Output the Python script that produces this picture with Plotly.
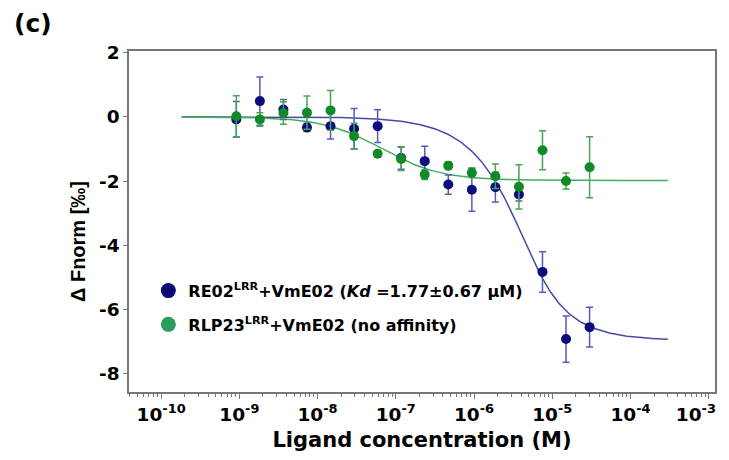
import numpy as np
import plotly.graph_objects as go

# ---- data ----
conc_M = [9.155e-10, 1.831e-9, 3.662e-9, 7.324e-9, 1.465e-8, 2.930e-8, 5.859e-8, 1.172e-7,
          2.344e-7, 4.688e-7, 9.375e-7, 1.875e-6, 3.750e-6, 7.500e-6, 1.500e-5, 3.000e-5]

re02_fnorm = [-0.08, 0.49, 0.23, -0.33, -0.29, -0.37, -0.29, -1.28,
              -1.38, -2.11, -2.27, -2.19, -2.42, -4.83, -6.92, -6.55]
re02_err = [0.56, 0.75, 0.31, 0.13, 0.40, 0.63, 0.51, 0.35,
            0.46, 0.30, 0.67, 0.46, 0.20, 0.63, 0.72, 0.62]

rlp23_fnorm = [0.02, -0.08, 0.12, 0.13, 0.20, -0.60, -1.15, -1.31,
               -1.80, -1.52, -1.74, -1.85, -2.18, -1.04, -2.00, -1.57]
rlp23_err = [0.64, 0.21, 0.35, 0.52, 0.62, 0.40, 0.10, 0.36,
             0.15, 0.12, 0.15, 0.38, 0.69, 0.61, 0.25, 0.95]

# fit parameters
re02_kd, re02_target, re02_bound = 1.77e-6, 4.0e-6, -6.97
rlp23_ec50, rlp23_hill, rlp23_bound = 6.6e-8, 1.15, -1.98

x_tickvals = [1e-10, 1e-9, 1e-8, 1e-7, 1e-6, 1e-5, 1e-4, 1e-3]
x_ticktext = ["10<sup>-10</sup>", "10<sup>-9</sup>", "10<sup>-8</sup>", "10<sup>-7</sup>",
              "10<sup>-6</sup>", "10<sup>-5</sup>", "10<sup>-4</sup>",
              "10<sup>-3</sup>\u00a0\u00a0\u00a0\u00a0"]
y_tickvals = [2, 0, -2, -4, -6, -8]

label_re02 = "<b>RE02<sup>LRR</sup>+VmE02 (<i>Kd</i> =1.77±0.67 µM)</b>"
label_rlp23 = "<b>RLP23<sup>LRR</sup>+VmE02 (no affinity)</b>"
x_title = "<b>Ligand concentration (M)</b>"
y_title = "<b>Δ Fnorm [‰]</b>"
panel_label = "<b>(c)</b>"

# ---- fit curves ----
c_fit = np.logspace(np.log10(min(conc_M) / 5), np.log10(max(conc_M) * 10), 300)
s = c_fit + re02_target + re02_kd
frac_re02 = (s - np.sqrt(s ** 2 - 4 * c_fit * re02_target)) / (2 * re02_target)
fit_re02 = re02_bound * frac_re02
fit_rlp23 = rlp23_bound / (1 + (rlp23_ec50 / c_fit) ** rlp23_hill)

BLUE_PT = "#0c0c7e"
BLUE_LN = "#4848a8"
GREEN_PT = "#0f8a26"
GREEN_LN = "#44ad5e"

WIDE = "'DejaVu Sans', Verdana, sans-serif"
ARIAL = "Arial, 'Liberation Sans', sans-serif"

fig = go.Figure()
fig.add_trace(go.Scatter(x=c_fit, y=fit_re02, mode="lines",
                         line=dict(color=BLUE_LN, width=1.5), showlegend=False, hoverinfo="skip"))
fig.add_trace(go.Scatter(x=c_fit, y=fit_rlp23, mode="lines",
                         line=dict(color=GREEN_LN, width=1.5), showlegend=False, hoverinfo="skip"))
fig.add_trace(go.Scatter(x=conc_M, y=re02_fnorm, mode="markers",
                         marker=dict(color=BLUE_PT, size=10),
                         error_y=dict(type="data", array=re02_err, color="#5a5ab8", thickness=1.5, width=3.5),
                         showlegend=False))
fig.add_trace(go.Scatter(x=conc_M, y=rlp23_fnorm, mode="markers",
                         marker=dict(color=GREEN_PT, size=10),
                         error_y=dict(type="data", array=rlp23_err, color="#45a558", thickness=1.5, width=3.5),
                         showlegend=False))
# legend entries
fig.add_trace(go.Scatter(x=[None], y=[None], mode="markers", name=label_re02,
                         marker=dict(color="#0b0b78", size=15), legendgroup="a"))
fig.add_trace(go.Scatter(x=[None], y=[None], mode="markers", name=label_rlp23,
                         marker=dict(color="#2a9c5e", size=15), legendgroup="b"))

# page body adds an 8px offset; margins compensate so the plot box lands where the reference has it
fig.update_layout(
    width=729, height=460,
    margin=dict(l=121, r=22, t=43, b=76),
    paper_bgcolor="white", plot_bgcolor="white",
    font=dict(family=WIDE, color="black"),
    legend=dict(x=0.033, y=0.347, xanchor="left", yanchor="top",
                bgcolor="rgba(0,0,0,0)", font=dict(size=16, family=WIDE, color="black"),
                tracegroupgap=10, traceorder="grouped"),
    annotations=[
        dict(text=panel_label, xref="paper", yref="paper",
             x=-0.2, y=1.0 + 28 / 341, xanchor="left", yanchor="middle",
             showarrow=False, font=dict(size=25, family=WIDE, color="black")),
        dict(text=y_title, xref="paper", yref="paper", textangle=-90,
             x=-51 / 586, y=150 / 341, xanchor="center", yanchor="middle",
             showarrow=False, font=dict(size=20, family=ARIAL, color="black")),
    ],
)

fig.update_xaxes(
    type="log", range=[-10.41, -2.92], automargin=False,
    tickmode="array", tickvals=x_tickvals, ticktext=x_ticktext,
    ticklabeloverflow="allow",
    ticks="outside", ticklen=5, tickwidth=1.2, tickcolor="#777",
    minor=dict(ticks="outside", ticklen=3, tickcolor="#777", dtick="D1", showgrid=False),
    showline=True, linecolor="#777", linewidth=1.5, mirror=True,
    showgrid=False, zeroline=False,
    tickfont=dict(size=18.5, family=WIDE, color="black", weight="bold"),
    title=dict(text=x_title, font=dict(size=21, family=WIDE, color="black"), standoff=8),
)
fig.update_yaxes(
    range=[-8.57, 2.05], automargin=False,
    tickmode="array", tickvals=y_tickvals, ticktext=[str(v) for v in y_tickvals],
    ticks="outside", ticklen=4, tickwidth=1.2, tickcolor="#777",
    showline=True, linecolor="#777", linewidth=1.5, mirror=True,
    showgrid=False, zeroline=False,
    tickfont=dict(size=18.5, family=WIDE, color="black", weight="bold"),
)

fig.write_html("out.html")
